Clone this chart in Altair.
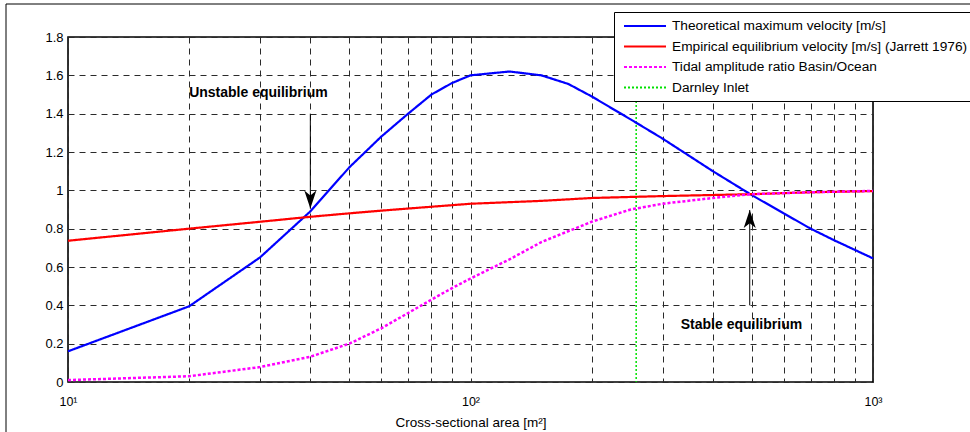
import altair as alt
import pandas as pd

FONT = "Liberation Sans"

# ---- data ----
series_names = [
    "Theoretical maximum velocity [m/s]",
    "Empirical equilibrium velocity [m/s] (Jarrett 1976)",
    "Tidal amplitude ratio Basin/Ocean",
    "Darnley Inlet",
]
series_colors = ["#0000ff", "#ff0000", "#ff00ff", "#00e000"]
series_dashes = [[1, 0], [1, 0], [3, 2], [2, 2]]

blue_x = [10, 20, 30, 40, 50, 60, 70, 80, 90, 100, 125, 150, 175, 200, 250, 300, 400, 500, 600, 700, 800, 1000]
blue_y = [0.16, 0.395, 0.65, 0.89, 1.12, 1.28, 1.40, 1.50, 1.56, 1.60, 1.62, 1.60, 1.555, 1.49, 1.37, 1.27, 1.10, 0.975, 0.88, 0.80, 0.74, 0.645]

red_x = [10, 20, 30, 40, 50, 60, 70, 100, 150, 200, 300, 500, 700, 1000]
red_y = [0.737, 0.80, 0.836, 0.862, 0.88, 0.894, 0.905, 0.93, 0.945, 0.96, 0.97, 0.98, 0.99, 0.996]

mag_x = [10, 20, 30, 40, 50, 60, 70, 80, 90, 100, 125, 150, 200, 250, 300, 400, 500, 700, 1000]
mag_y = [0.01, 0.03, 0.078, 0.132, 0.20, 0.28, 0.36, 0.43, 0.49, 0.54, 0.64, 0.73, 0.836, 0.90, 0.93, 0.96, 0.98, 0.99, 0.997]

darnley_x = [258]

x_grid_values = [10, 20, 30, 40, 50, 60, 70, 80, 90, 100, 200, 300, 400, 500, 600, 700, 800, 900, 1000]
y_tick_values = [0, 0.2, 0.4, 0.6, 0.8, 1.0, 1.2, 1.4, 1.6, 1.8]

# annotations (data coordinates)
ann_text = ["Unstable equilibrium", "Stable equilibrium"]
ann_text_x = [20, 333]
ann_text_y = [1.506, 0.297]
arrow_x = [40, 494]
arrow_from = [1.40, 0.40]
arrow_tip = [0.905, 0.897]

# ---- tables ----
lines_df = pd.concat([
    pd.DataFrame({"x": blue_x, "y": blue_y, "series": series_names[0]}),
    pd.DataFrame({"x": red_x, "y": red_y, "series": series_names[1]}),
    pd.DataFrame({"x": mag_x, "y": mag_y, "series": series_names[2]}),
], ignore_index=True)
darnley_df = pd.DataFrame({"x": darnley_x, "series": [series_names[3]]})
text_df = pd.DataFrame({"x": ann_text_x, "y": ann_text_y, "label": ann_text})
arrow_df = pd.DataFrame({"x": arrow_x, "y": arrow_from, "y2": arrow_tip})
head_down = pd.DataFrame({"x": [arrow_x[0]], "y": [arrow_tip[0]]})
head_up = pd.DataFrame({"x": [arrow_x[1]], "y": [arrow_tip[1]]})

label_expr = ("datum.value == 10 ? '10\u00b9' : datum.value == 100 ? '10\u00b2' : "
              "datum.value == 1000 ? '10\u00b3' : ''")

xscale = alt.Scale(type="log", domain=[10, 1000], nice=False)
yscale = alt.Scale(domain=[0, 1.8], nice=False)

grid_style = dict(grid=True, gridColor="#2a2a2a", gridDash=[6, 5], gridWidth=1,
                  gridOpacity=1, domain=False, ticks=False, labelFont=FONT,
                  titleFont=FONT, labelColor="black", titleColor="black",
                  titleFontWeight="normal")

X = alt.X("x:Q", scale=xscale,
          axis=alt.Axis(values=x_grid_values, labelExpr=label_expr, labelOverlap=False,
                        labelFlush=False, title="Cross-sectional area [m\u00b2]",
                        labelPadding=13, titlePadding=8, labelFontSize=12.5,
                        titleFontSize=13.5, **grid_style))
Y = alt.Y("y:Q", scale=yscale,
          axis=alt.Axis(values=y_tick_values, format=".1~f", title=None,
                        labelPadding=5, labelFontSize=13, **grid_style))

legend = alt.Legend(orient="none", legendX=546, legendY=-25, title=None,
                    symbolType="M-3,0H3", symbolSize=196, symbolStrokeWidth=2,
                    symbolOffset=17, labelOffset=19, labelLimit=500,
                    labelFontSize=13.7, labelFont=FONT, labelColor="black",
                    padding=6, rowPadding=5.5,
                    strokeColor="black", fillColor="white", cornerRadius=0)
color = alt.Color("series:N", scale=alt.Scale(domain=series_names, range=series_colors),
                  legend=legend)
dash = alt.StrokeDash("series:N", scale=alt.Scale(domain=series_names, range=series_dashes),
                      legend=legend)

frame = alt.Chart(pd.DataFrame({"a": [0]})).mark_rect(
    fillOpacity=0, stroke="black", strokeWidth=1
).encode(x=alt.value(-62), x2=alt.value(910), y=alt.value(-33), y2=alt.value(400))

solid = alt.Chart(lines_df).transform_filter(
    alt.FieldOneOfPredicate(field="series", oneOf=series_names[:2])
).mark_line(strokeWidth=2.2).encode(x=X, y=Y, color=color, strokeDash=dash, order="x:Q")

dotted = alt.Chart(lines_df).transform_filter(
    alt.FieldEqualPredicate(field="series", equal=series_names[2])
).mark_line(strokeWidth=2.5).encode(x=X, y=Y, color=color, strokeDash=dash, order="x:Q")

darnley = alt.Chart(darnley_df).mark_rule(strokeWidth=1.5).encode(
    x=X, color=color, strokeDash=dash)

arrows = alt.Chart(arrow_df).mark_rule(color="black", strokeWidth=1).encode(
    x=X, y=Y, y2="y2:Q")

down_shape = "M0,1L-0.67,-1L0,-0.45L0.67,-1Z"
up_shape = "M0,-1L-0.67,1L0,0.45L0.67,1Z"
head1 = alt.Chart(head_down).mark_point(shape=down_shape, size=324, filled=True,
                                        color="black", opacity=1, yOffset=-9).encode(x=X, y=Y)
head2 = alt.Chart(head_up).mark_point(shape=up_shape, size=324, filled=True,
                                      color="black", opacity=1, yOffset=9).encode(x=X, y=Y)

texts = alt.Chart(text_df).mark_text(align="left", baseline="middle", fontWeight="bold",
                                     fontSize=14, font=FONT, color="black").encode(
    x=X, y=Y, text="label:N")

chart = alt.layer(frame, darnley, solid, dotted, arrows, head1, head2, texts).properties(
    width=805, height=345,
    padding={"left": 68, "top": 37, "right": 97, "bottom": 50},
    autosize=alt.AutoSizeParams(type="none"),
    background="white",
).configure_view(stroke="black", strokeWidth=1.6)

chart.save("out.html", embed_options={"renderer": "svg", "actions": False})
